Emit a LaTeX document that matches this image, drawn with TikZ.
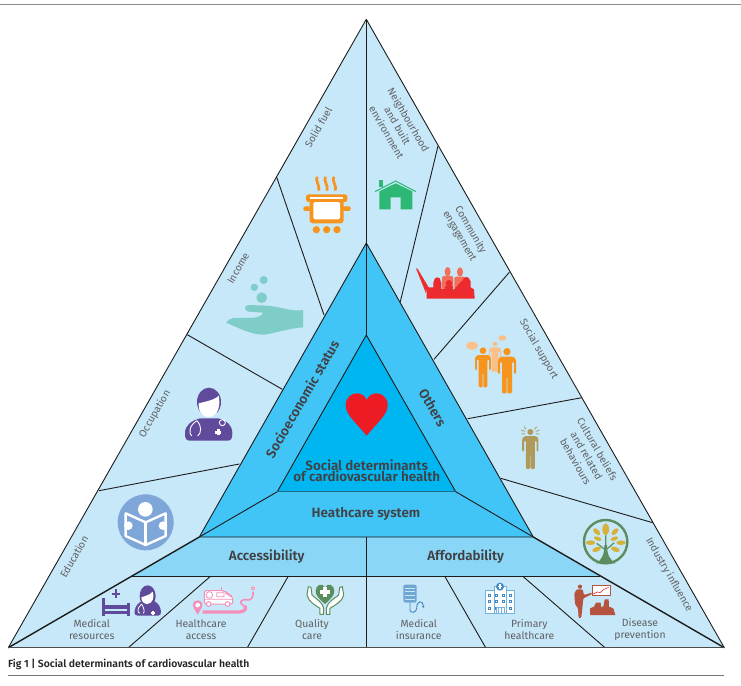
\documentclass[tikz,border=0pt]{standalone}
\usepackage{fontspec}
\setmainfont[BoldFont={Fira Sans SemiBold}]{Fira Sans}
\definecolor{outerfill}{HTML}{C7E8F9}
\definecolor{midfill}{HTML}{41C4F6}
\definecolor{innerfill}{HTML}{00B6F1}
\definecolor{bandfill}{HTML}{8AD6F7}
\definecolor{labelgray}{HTML}{5F6062}
\definecolor{titlegray}{HTML}{414042}
\definecolor{inkline}{HTML}{1C1C1C}
\definecolor{basedark}{HTML}{1F6A88}
\definecolor{potorange}{HTML}{F7941E}
\definecolor{housegreen}{HTML}{2DB875}
\definecolor{handteal}{HTML}{7FCDC8}
\definecolor{docpurple}{HTML}{5F4A9C}
\definecolor{crowdred}{HTML}{ED2A2E}
\definecolor{crowdpink}{HTML}{F2705A}
\definecolor{lightorange}{HTML}{FBC088}
\definecolor{tanfig}{HTML}{B09A5B}
\definecolor{bookblue}{HTML}{7FA6D9}
\definecolor{treegreen}{HTML}{5C8D5F}
\definecolor{leafgold}{HTML}{D6B23C}
\definecolor{ambpink}{HTML}{F48FB9}
\definecolor{carebluedark}{HTML}{3F88C5}
\definecolor{carebluelight}{HTML}{6FB3E0}
\definecolor{brownfig}{HTML}{B5533F}
\definecolor{heartred}{HTML}{ED1C24}
\tikzset{
  x=1pt,y=-1pt,
  side/.style={font=\fontsize{10.2}{12.6}\selectfont,text=labelgray,align=center,inner sep=0pt},
  foot/.style={font=\fontsize{10.4}{12.4}\selectfont,text=labelgray,align=center,inner sep=0pt},
  head/.style={font=\bfseries\fontsize{13.4}{13.4}\selectfont,text=titlegray,align=center,inner sep=0pt},
  edge/.style={draw=inkline,line width=0.9pt},
  heavy/.style={draw=inkline,line width=1.4pt},
  zA/.style={shift={(180,0)},scale=0.33333},
  zB/.style={shift={(0,480)},scale=0.33333},
  zC/.style={shift={(370,480)},scale=0.33333},
  zD/.style={shift={(100,230)},scale=0.33333},
  zE/.style={shift={(400,230)},scale=0.33333},
}
% standing figure with shoulders at (#1,#2)
\newcommand{\standing}[4]{%
  \fill[#4,shift={(#1,#2)},scale=#3,rounded corners=1.2pt]
    (-27,8) -- (-27,52) -- (-21,52) -- (-21,15) -- (-15,15) -- (-15,110) -- (-1,110) -- (-1,60)
    -- (1,60) -- (1,110) -- (15,110) -- (15,15) -- (21,15) -- (21,52) -- (27,52) -- (27,8) -- (19,0) -- (-19,0) -- cycle;}
\begin{document}
\begin{tikzpicture}
\useasboundingbox (0,0) rectangle (741,685);
% main vertices
\coordinate (A) at (366.3,19.3);
\coordinate (BL) at (8.3,647.7);
\coordinate (BR) at (724.3,647.7);
\coordinate (MA) at (366.3,243);
\coordinate (ML) at (199.3,537);
\coordinate (MR) at (533.3,537);
\coordinate (IA) at (366.3,335);
\coordinate (IL) at (277.3,491.7);
\coordinate (IR) at (455.7,491.7);
\coordinate (SL) at (131.7,576.7);
\coordinate (SR) at (600,576.7);
\coordinate (Bm) at (366.3,647.7);
\coordinate (Sm) at (366.3,576.7);
\coordinate (Mm) at (366.3,537);

% page rules
\coordinate (ruleTL) at (0,5); \coordinate (ruleTR) at (741,5);
\coordinate (ruleBL) at (8,675.7); \coordinate (ruleBR) at (724.3,675.7);
\draw[draw=black!45,line width=1pt] (ruleTL) -- (ruleTR);
\draw[draw=black!55,line width=1pt] (ruleBL) -- (ruleBR);

% outer triangle and its dividers
\fill[outerfill] (A) -- (BR) -- (BL) -- cycle;
\draw[edge] (A) -- (BL) (A) -- (BR);
\draw[edge] (276.7,177.3) coordinate (d1a) -- (324,315) coordinate (d1b);
\draw[edge] (187.3,334.7) coordinate (d2a) -- (282.3,389.3) coordinate (d2b);
\draw[edge] (99,490.7) coordinate (d3a) -- (239.3,464) coordinate (d3b);
\draw[edge] (438,146) coordinate (d4a) -- (400.3,301.7) coordinate (d4b);
\draw[edge] (509.3,272.3) coordinate (d5a) -- (434,359.3) coordinate (d5b);
\draw[edge] (581.7,397.7) coordinate (d6a) -- (467.7,418.7) coordinate (d6b);
\draw[edge] (652.7,522.7) coordinate (d7a) -- (500.7,478.3) coordinate (d7b);
\draw[edge] (210,576.7) coordinate (d8a) -- (128.3,647.7) coordinate (d8b);
\draw[edge] (288,576.7) coordinate (d9a) -- (247.3,647.7) coordinate (d9b);
\draw[edge] (445,576.7) coordinate (d10a) -- (485.7,647.7) coordinate (d10b);
\draw[edge] (523.3,576.7) coordinate (d11a) -- (605,647.7) coordinate (d11b);
\draw[edge] (A) -- (MA);

% accessibility and affordability band
\fill[bandfill] (ML) -- (MR) -- (SR) -- (SL) -- cycle;
\draw[edge] (SL) -- (SR);
% middle and inner triangles
\fill[midfill] (MA) -- (MR) -- (ML) -- cycle;
\fill[innerfill] (IA) -- (IR) -- (IL) -- cycle;
\draw[edge] (ML) -- (MA) -- (MR) -- cycle;
\draw[edge] (IL) -- (IA) -- (IR);
\draw[edge] (MA) -- (IA);
\draw[edge] (ML) -- (IL);
\draw[edge] (MR) -- (IR);
\draw[draw=basedark,line width=1.5pt] (IL) -- (IR);
\draw[edge] (Mm) -- (Bm);
\draw[heavy] (BL) -- (ML);
\draw[heavy] (BR) -- (MR);
\draw[draw=black!70,line width=1.1pt] (BL) -- (BR);

% rotated side labels
\node[side,rotate=60] (solid) at (318.3,127.3) {Solid fuel};
\node[side,rotate=60] (income) at (238.3,268.3) {Income};
\node[side,rotate=60] (occup) at (155,414) {Occupation};
\node[side,rotate=60] (educ) at (74,556.7) {Education};
\node[side,rotate=-60] (neigh) at (397.7,126) {Neighbourhood\\and built\\environment};
\node[side,rotate=-60] (commun) at (465,233) {Community\\engagement};
\node[side,rotate=-60] (social) at (538.7,349.3) {Social support};
\node[side,rotate=-60] (cultur) at (586.7,455.3) {Cultural beliefs\\and related\\behaviours};
\node[side,rotate=-60] (indust) at (669,575) {Industry influence};

% bold headings
\node[head,rotate=60] (socio) at (302,399) {Socioeconomic status};
\node[head,rotate=-60] (others) at (432.7,407.7) {Others};
\node[head,font=\bfseries\fontsize{13.4}{11.7}\selectfont] (sdch) at (366.7,470.8) {Social determinants\\of cardiovascular health};
\node[head] (hsys) at (366,514) {Heathcare system};
\node[head] (access) at (266.7,556.7) {Accessibility};
\node[head] (afford) at (465.7,556.7) {Affordability};

% labels along the foot
\node[foot] (medres) at (91.7,629.5) {Medical\\resources};
\node[foot] (hacc) at (201,629.5) {Healthcare\\access};
\node[foot] (qual) at (312,629.5) {Quality\\care};
\node[foot] (medins) at (418.7,629.5) {Medical\\insurance};
\node[foot] (prim) at (529.3,629.5) {Primary\\healthcare};
\node[foot] (disprev) at (640,629.5) {Disease\\prevention};

% caption
\node[anchor=west,inner sep=0pt,font=\bfseries\fontsize{10.4}{11}\selectfont,text=black!85] (caption) at (8,664) {Fig 1 | Social determinants of cardiovascular health};

% heart
\fill[heartred,shift={(190,240)},scale=0.33333]
  (530,587) .. controls (490,540) and (467,522) .. (467,495)
  .. controls (467,472) and (485,460) .. (500,460)
  .. controls (515,460) and (525,468) .. (530,480)
  .. controls (535,468) and (545,460) .. (560,460)
  .. controls (575,460) and (593,472) .. (593,495)
  .. controls (593,522) and (570,540) .. (530,587) -- cycle;

% cooking pot
\begin{scope}[zA]
  \fill[potorange,rounded corners=3pt] (389,598) rectangle (491,670);
  \fill[white,rounded corners=1.5pt] (400,606) rectangle (480,658);
  \fill[potorange,rounded corners=2.5pt] (378,583) rectangle (502,606);
  \fill[white] (390,592) rectangle (490,598);
  \fill[potorange,rounded corners=1.5pt] (370,619) rectangle (392,633);
  \fill[potorange,rounded corners=1.5pt] (488,619) rectangle (512,633);
  \foreach \cx in {409,440,471} \fill[potorange] (\cx,689) circle (11);
  \foreach \sx in {415,440,465}
    \draw[potorange,line width=2.7pt] (\sx-4,530) .. controls (\sx-10,545) and (\sx+6,555) .. (\sx+1,572);
  % house
  \fill[housegreen] (598,541) rectangle (610,562);
  \fill[outerfill] (585,575) -- (647,543) -- (708,575) -- (708,585) -- (585,585) -- cycle;
  \draw[housegreen,line width=1pt] (585,575) -- (647,543) -- (708,575);
  \fill[housegreen] (598,574) -- (647,550) -- (697,574) -- (697,628) -- (662,628) -- (662,592)
    -- (632,592) -- (632,628) -- (598,628) -- cycle;
  % raised-hands crowd
  \fill[crowdpink] (803,815) ellipse [x radius=9,y radius=14];
  \fill[crowdpink] (840,816) ellipse [x radius=9,y radius=14];
  \fill[crowdpink,rounded corners=2pt] (786,828) rectangle (820,868);
  \fill[crowdpink,rounded corners=2pt] (823,830) rectangle (856,868);
  \fill[crowdred] (708,805) -- (713,807) -- (746,862) -- (760,862) -- (760,845) -- (784,845) -- (784,868)
    -- (740,868) -- (738,880) -- cycle;
  \fill[crowdred] (772,842) circle (10);
  \fill[crowdred] (807,850) circle (10);
  \fill[crowdred] (859,842) circle (11);
  \fill[crowdred] (795,858) rectangle (820,870);
  \fill[crowdred] (822,868) -- (846,842) -- (872,842) -- (872,862) -- (882,868) -- (884,896) -- (740,896) -- (740,866) -- cycle;
\end{scope}

% hand with coins, doctor
\begin{scope}[zD]
  \fill[handteal] (609,240) .. controls (580,245) and (555,235) .. (525,230)
    .. controls (500,226) and (470,226) .. (445,225)
    .. controls (432,226) and (432,243) .. (445,245)
    -- (490,248) .. controls (480,270) and (440,262) .. (400,264)
    .. controls (390,266) and (382,272) .. (378,278)
    .. controls (410,290) and (450,315) .. (495,314)
    .. controls (540,305) and (570,295) .. (609,292) -- cycle;
  \fill[handteal] (485,203) circle (16);
  \fill[handteal] (463,172) circle (11);
  \fill[handteal] (491,150) circle (12);
  % doctor
  \fill[docpurple] (270,632) .. controls (258,632) and (255,625) .. (255,610)
    .. controls (255,585) and (275,572) .. (300,565) -- (355,565)
    .. controls (380,572) and (397,585) .. (397,610)
    .. controls (397,625) and (394,632) .. (382,632) -- cycle;
  \fill[docpurple] (327,516) ellipse [x radius=36,y radius=43];
  \fill[white] (296,520) .. controls (315,515) and (345,510) .. (356,497)
    .. controls (362,525) and (355,560) .. (327,561)
    .. controls (305,561) and (293,540) .. (296,520) -- cycle;
  \draw[white,line width=0.9pt] (291,572) .. controls (268,585) and (265,610) .. (275,618)
    (291,572) .. controls (305,585) and (305,610) .. (293,618);
  \draw[white,line width=0.9pt] (367,578) circle (9);
  \fill[white] (351,598) rectangle (359,616);
  \fill[white] (346,603) rectangle (364,611);
\end{scope}

% group in conversation, listener
\begin{scope}[zE]
  \fill[lightorange] (216,347) ellipse [x radius=18,y radius=12];
  \fill[lightorange] (307,324) ellipse [x radius=12,y radius=8];
  \fill[lightorange] (285,342) circle (7);
  \standing{285}{352}{0.68}{lightorange}
  \fill[potorange] (249,362) circle (10);
  \standing{249}{375}{0.88}{potorange}
  \fill[potorange] (321,365) circle (11);
  \standing{321}{380}{1}{potorange}
  % figure with radiating lines
  \fill[tanfig] (391,606) circle (9);
  \standing{391}{618}{0.9}{tanfig}
  \draw[tanfig,line width=0.8pt] (372,590) -- (378,598) (364,601) -- (375,604) (364,612) -- (375,611)
    (410,590) -- (404,598) (418,601) -- (407,604) (418,612) -- (407,611);
\end{scope}

% book reader, bed, nurse, ambulance, caring hands
\begin{scope}[zB]
  \fill[bookblue] (437,127) circle (84);
  \fill[white] (436,88) circle (22);
  \draw[white,line width=2.4pt,fill=bookblue,line join=round] (377,100) -- (437,127) -- (497,100) -- (497,168) -- (437,195) -- (377,168) -- cycle;
  \draw[white,line width=2.4pt] (437,127) -- (437,195);
  \fill[white] (385,137) circle (13);
  \fill[white] (489,137) circle (13);
  % hospital bed
  \fill[docpurple] (307,353) rectangle (316,407);
  \fill[docpurple] (382,368) rectangle (390,407);
  \fill[docpurple] (316,374) rectangle (382,387);
  \fill[docpurple] (316,392) rectangle (382,402);
  \fill[docpurple] (345,328) rectangle (351,353);
  \fill[docpurple] (336,338) rectangle (360,344);
  % nurse
  \fill[docpurple] (412,407) .. controls (405,407) and (403,402) .. (404,392)
    .. controls (406,378) and (415,368) .. (428,362) -- (460,362)
    .. controls (474,368) and (482,380) .. (483,395)
    .. controls (484,403) and (480,407) .. (474,407) -- cycle;
  \fill[docpurple] (443,348) ellipse [x radius=24,y radius=32];
  \fill[white] (424,352) .. controls (435,348) and (450,345) .. (458,335)
    .. controls (464,350) and (458,372) .. (442,372)
    .. controls (430,372) and (424,362) .. (424,352) -- cycle;
  \draw[white,line width=0.8pt] (425,372) .. controls (410,385) and (412,398) .. (420,400)
    (425,372) .. controls (432,385) and (435,395) .. (430,400);
  \fill[white] (455,392) rectangle (461,404);
  \fill[white] (452,395) rectangle (464,401);
  % ambulance on a winding road
  \draw[ambpink,line width=1pt,fill=white,rounded corners=2pt] (613,332) -- (672,332) -- (698,350) -- (698,372) -- (613,372) -- cycle;
  \draw[ambpink,line width=0.8pt] (650,338) rectangle (672,350) (675,338) -- (692,350) (613,358) -- (698,358);
  \draw[ambpink,line width=0.8pt] (628,345) circle (10);
  \draw[ambpink,line width=1pt,fill=white] (626,372) circle (7) (683,372) circle (7);
  \draw[ambpink,line width=0.8pt] (665,332) -- (665,320);
  \fill[ambpink] (593,404) .. controls (585,390) and (579,382) .. (579,375)
    .. controls (579,356) and (607,356) .. (607,375)
    .. controls (607,382) and (601,390) .. (593,404) -- cycle;
  \fill[white] (593,375) circle (7);
  \draw[ambpink,line width=3.2pt] (608,396) -- (715,396) .. controls (738,396) and (741,382) .. (733,378);
  \draw[ambpink,line width=1.6pt] (733,378) .. controls (715,370) and (720,355) .. (745,360) .. controls (758,360) and (760,345) .. (759,335);
  \fill[ambpink] (759,325) circle (6);
  \fill[white] (759,325) circle (2.5);
  % caring hands round a heart
  \fill[treegreen] (975,372) .. controls (955,355) and (947,345) .. (947,332)
    .. controls (947,315) and (968,306) .. (975,322)
    .. controls (982,306) and (1003,315) .. (1003,332)
    .. controls (1003,345) and (995,355) .. (975,372) -- cycle;
  \fill[white] (969,322) rectangle (981,352);
  \fill[white] (960,331) rectangle (990,343);
  \draw[treegreen,line width=1pt,fill=white,line join=round] (960,403) -- (960,385) .. controls (945,375) and (925,365) .. (921,345)
    -- (925,320) -- (933,322) -- (936,345) .. controls (945,355) and (968,365) .. (971,385) -- (971,403) -- cycle;
  \draw[treegreen,line width=1pt,fill=white,line join=round] (990,403) -- (990,385) .. controls (1005,375) and (1027,365) .. (1031,345)
    -- (1027,320) -- (1019,322) -- (1016,345) .. controls (1005,355) and (982,365) .. (979,385) -- (979,403) -- cycle;
\end{scope}

% insurance form, hospital, lecturer, tree
\begin{scope}[zC]
  \fill[carebluedark!75,rounded corners=2pt] (100,314) rectangle (140,368);
  \foreach \ly in {324,335,346,357} \draw[outerfill,line width=0.6pt] (104,\ly) -- (136,\ly);
  \draw[carebluedark,line width=0.9pt] (120,368) -- (120,390) .. controls (120,400) and (140,400) .. (140,385)
    .. controls (140,360) and (160,360) .. (160,378);
  \fill[carebluedark] (160,380) circle (3.5);
  % hospital
  \draw[carebluelight,line width=0.9pt,fill=white] (347,332) rectangle (372,400);
  \draw[carebluelight,line width=0.9pt,fill=white] (408,332) rectangle (433,400);
  \draw[carebluelight,line width=0.9pt,fill=white] (372,318) rectangle (408,400);
  \foreach \wx in {359,379,401,420}
    \foreach \wy in {345,365,385}
      \draw[carebluedark,line width=0.6pt] (\wx-3,\wy-3) rectangle (\wx+3,\wy+3);
  \fill[white] (378,382) rectangle (402,400);
  \draw[carebluelight,line width=0.6pt] (378,382) rectangle (402,400) (386,382) -- (386,400) (394,382) -- (394,400);
  \fill[carebluedark] (390,320) circle (12);
  \fill[white] (388,313) rectangle (392,327);
  \fill[white] (383,318) rectangle (397,322);
  % lecturer with chart and audience
  \fill[brownfig] (630,320) circle (6.5);
  \fill[brownfig,rounded corners=1pt] (620,328) -- (638,328) -- (642,345) -- (665,338) -- (666,342) -- (640,355) -- (637,385) -- (634,413) -- (626,415) -- (624,385) -- (615,372) -- (613,340) -- cycle;
  \draw[brownfig,line width=0.9pt,fill=white] (666,317) rectangle (720,347);
  \draw[crowdred,line width=0.6pt] (670,342) -- (682,336) -- (690,338) -- (702,328) -- (716,322);
  \fill[brownfig] (660,405) -- (660,385) -- (672,380) -- (678,368) -- (692,368) -- (693,380) -- (700,380) -- (704,358) -- (716,358) -- (717,380) -- (730,385) -- (736,405) -- cycle;
  % tree in a ring
  \draw[treegreen,line width=2.4pt,fill=outerfill] (707,185) circle (65);
  \fill[treegreen] (678,250) .. controls (695,240) and (703,225) .. (703,195) -- (711,195)
    .. controls (711,225) and (720,240) .. (737,250) -- cycle;
  \draw[treegreen,line width=1.2pt] (707,210) -- (680,190) (707,210) -- (733,188) (707,195) -- (707,165);
  \fill[leafgold] (707,148) ellipse [x radius=10,y radius=18];
  \fill[leafgold,rotate around={-45:(680,155)}] (680,155) ellipse [x radius=13,y radius=7];
  \fill[leafgold,rotate around={45:(735,155)}] (735,155) ellipse [x radius=13,y radius=7];
  \fill[leafgold,rotate around={-20:(683,176)}] (683,176) ellipse [x radius=12,y radius=6];
  \fill[leafgold,rotate around={20:(733,176)}] (733,176) ellipse [x radius=12,y radius=6];
  \fill[leafgold] (662,188) ellipse [x radius=14,y radius=7];
  \fill[leafgold] (753,188) ellipse [x radius=14,y radius=7];
  \fill[leafgold,rotate around={20:(680,208)}] (680,208) ellipse [x radius=14,y radius=7];
  \fill[leafgold,rotate around={-20:(736,208)}] (736,208) ellipse [x radius=14,y radius=7];
\end{scope}
\end{tikzpicture}
\end{document}
